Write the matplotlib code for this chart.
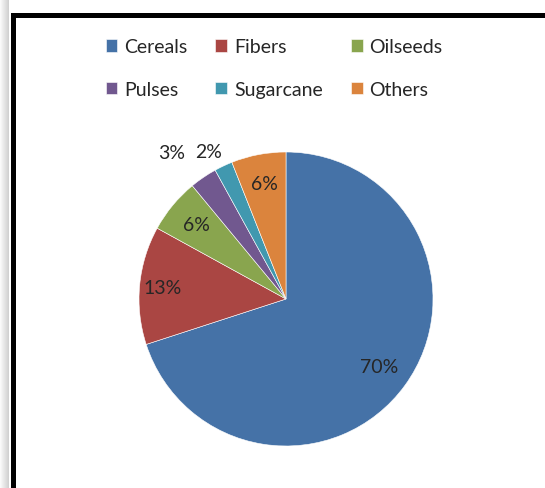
import numpy as np
import matplotlib
matplotlib.use("Agg")
import matplotlib.pyplot as plt
from matplotlib.patches import Rectangle

plt.rcParams['font.family'] = ['Lato', 'DejaVu Sans']

# Data
crops = ['Cereals', 'Fibers', 'Oilseeds', 'Pulses', 'Sugarcane', 'Others']
shares = [70, 13, 6, 3, 2, 6]
colors = ['#4572A7', '#AA4643', '#89A54E', '#71588F', '#4198AF', '#DB843D']
# percent label placement: radial distance (fraction of radius), angle shift (deg)
label_dist = [0.78, 0.84, 0.79, 1.265, 1.13, 0.80]
label_shift = [0, 0, 0, 3.6, 2.4, 0]

fig = plt.figure(figsize=(5.45, 4.89), dpi=100)
W, H = 545, 489

# chart frame (thick black border with soft shadow on the left)
for i in range(9):
    fig.patches.append(Rectangle((i / W, 0), 1 / W, 1, transform=fig.transFigure,
                                 color='0.5', alpha=0.04 * (i + 1), lw=0))
fig.patches.append(Rectangle((13 / W, -0.1), 1.2, (H - 15.5) / H + 0.1,
                             transform=fig.transFigure, fill=False,
                             edgecolor='black', lw=3.6))

cx, cy, r = 286, 300, 147
ax = fig.add_axes([(cx - r) / W, (H - cy - r) / H, 2 * r / W, 2 * r / H])
wedges, texts = ax.pie(shares, colors=colors, startangle=90, counterclock=False,
                       wedgeprops=dict(edgecolor='white', linewidth=0.4))
ax.set_xlim(-1, 1)
ax.set_ylim(-1, 1)
ax.set_aspect('equal')

for w, v, d, s in zip(wedges, shares, label_dist, label_shift):
    ang = np.deg2rad((w.theta1 + w.theta2) / 2 + s)
    ax.text(d * np.cos(ang), d * np.sin(ang), f'{v}%', ha='center', va='center',
            fontsize=14, color='#262626', clip_on=False)

# legend filled row by row (matplotlib fills columns first)
order = [0, 3, 1, 4, 2, 5]
fig.legend([wedges[i] for i in order], [crops[i] for i in order], ncol=3,
           loc='center', bbox_to_anchor=(274 / W, 1 - 69 / H),
           frameon=False, fontsize=14, handlelength=0.6, handleheight=0.6,
           handletextpad=0.35, columnspacing=1.45, labelspacing=1.3,
           labelcolor='#262626')

fig.savefig('out.png', dpi=100)
